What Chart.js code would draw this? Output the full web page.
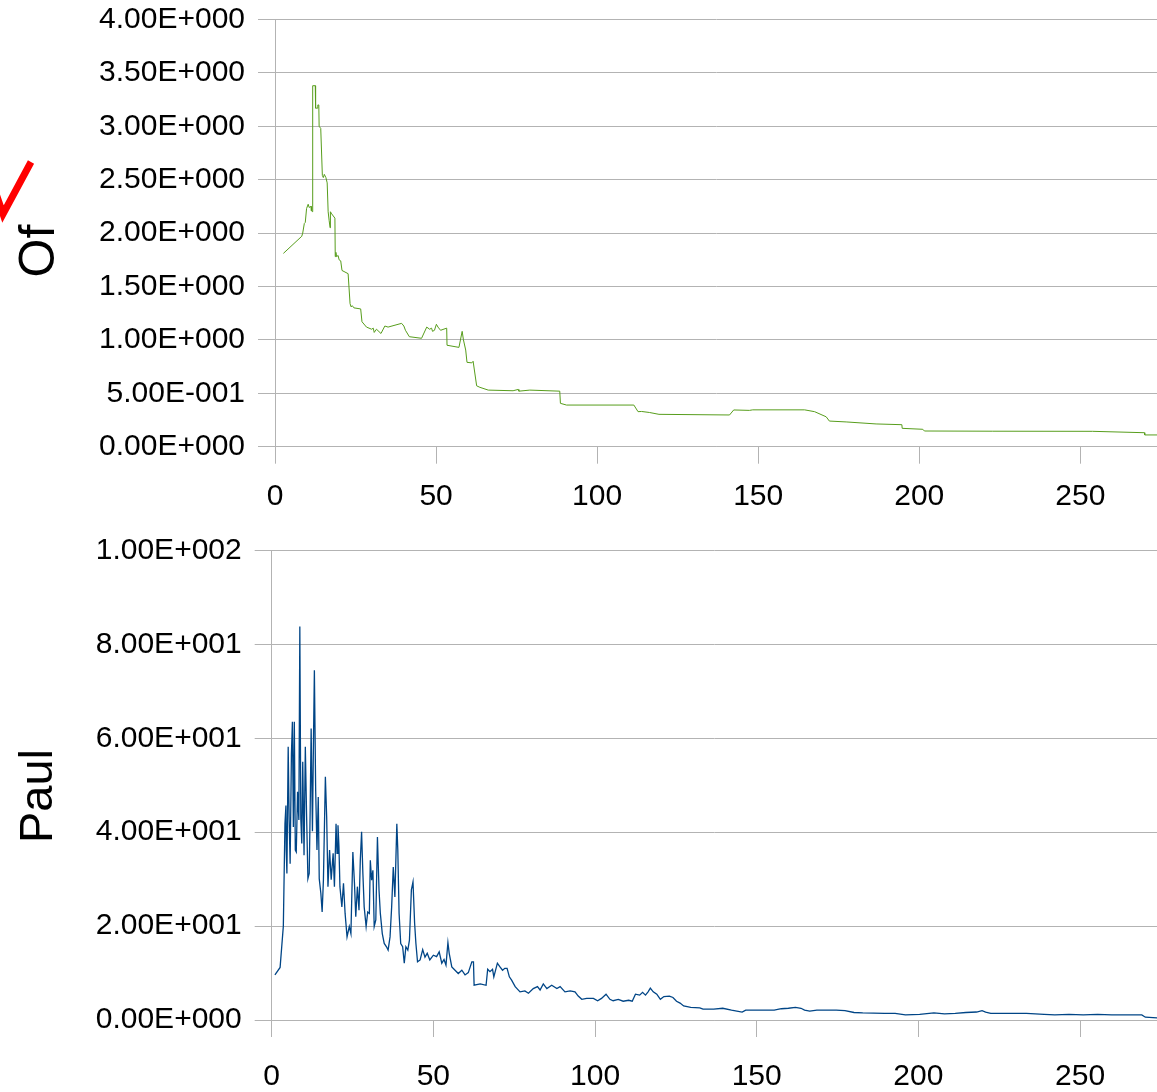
<!DOCTYPE html>
<html lang="en">
<head>
<meta charset="UTF-8">
<title>Of / Paul</title>
<script src="https://cdn.jsdelivr.net/npm/chart.js"></script>
<style>
    body { margin: 0; background: #fff; width: 1157px; height: 1092px; overflow: hidden; position: relative; }
    .box { position: absolute; left: 0; width: 1157px; }
    #topBox { top: 0; height: 520px; }
    #botBox { top: 520px; height: 572px; }
    #tick { position: absolute; left: 0; top: 0; }
</style>
</head>
<body>
<div class="box" id="topBox"><canvas id="ofChart" width="1157" height="520"></canvas></div>
<div class="box" id="botBox"><canvas id="paulChart" width="1157" height="572"></canvas></div>
<svg id="tick" width="40" height="230"><polyline points="-8,182 3,214 31,162" fill="none" stroke="#ff0000" stroke-width="7" /></svg>
<script>
// values
const ofX = [2.6, 8.3, 8.6, 9.1, 9.4, 9.8, 10.3, 10.6, 11.2, 11.3, 11.6, 11.7, 12.5, 12.6, 13.1, 13.3, 13.6, 13.7, 14.2, 14.7, 15.0, 15.3, 15.8, 16.2, 16.5, 16.8, 17.1, 17.2, 17.6, 18.6, 18.7, 18.9, 19.1, 19.6, 19.9, 20.4, 20.8, 22.7, 23.3, 23.6, 24.0, 24.5, 26.6, 27.0, 28.4, 30.0, 30.5, 30.8, 31.5, 32.9, 34.1, 35.1, 39.3, 40.0, 40.5, 41.7, 45.5, 47.1, 48.0, 48.6, 48.9, 49.5, 50.1, 50.6, 51.4, 53.3, 53.4, 57.1, 58.1, 58.5, 59.2, 59.6, 61.1, 61.5, 62.6, 63.6, 66.2, 73.9, 75.5, 75.7, 79.1, 88.4, 88.6, 90.5, 111.4, 112.7, 113.8, 116.3, 119.2, 141.1, 142.4, 147.3, 148.3, 164.4, 167.5, 171.1, 172.1, 177.3, 186.6, 194.6, 194.7, 201.1, 201.6, 222.8, 253.8, 269.9, 270.0, 274.0];
const ofY = [1.81, 1.97, 2.00, 2.09, 2.10, 2.23, 2.27, 2.24, 2.25, 2.21, 2.20, 3.38, 3.38, 3.17, 3.17, 3.20, 3.20, 3.00, 2.98, 2.54, 2.52, 2.55, 2.52, 2.47, 2.20, 2.12, 2.05, 2.20, 2.18, 2.14, 1.78, 1.82, 1.78, 1.79, 1.75, 1.74, 1.65, 1.62, 1.34, 1.31, 1.32, 1.30, 1.29, 1.17, 1.12, 1.10, 1.11, 1.07, 1.10, 1.06, 1.13, 1.12, 1.155, 1.13, 1.09, 1.03, 1.015, 1.12, 1.10, 1.11, 1.08, 1.09, 1.146, 1.12, 1.09, 1.11, 0.95, 0.93, 1.08, 1.00, 0.905, 0.79, 0.785, 0.80, 0.57, 0.556, 0.53, 0.524, 0.536, 0.52, 0.53, 0.52, 0.406, 0.39, 0.39, 0.328, 0.33, 0.32, 0.303, 0.297, 0.344, 0.34, 0.345, 0.345, 0.328, 0.28, 0.24, 0.232, 0.213, 0.206, 0.172, 0.163, 0.147, 0.145, 0.144, 0.131, 0.11, 0.11];

const paulX = [1.0, 2.6, 3.1, 3.6, 4.1, 4.4, 4.5, 4.7, 5.1, 5.4, 5.7, 6.1, 6.4, 6.7, 7.0, 7.3, 7.6, 8.0, 8.4, 8.7, 9.0, 9.3, 9.6, 10.0, 10.4, 10.8, 11.2, 11.6, 11.9, 12.2, 12.6, 12.9, 13.2, 13.6, 14.0, 14.4, 14.7, 15.2, 15.6, 16.0, 16.6, 17.0, 17.4, 17.9, 18.4, 19.0, 19.4, 19.9, 20.2, 20.5, 20.8, 21.1, 21.7, 22.2, 22.7, 23.3, 24.0, 24.5, 25.1, 25.6, 26.0, 26.5, 27.0, 27.4, 27.8, 28.2, 28.6, 29.2, 29.7, 30.2, 30.5, 30.9, 31.3, 31.7, 32.2, 32.7, 33.2, 33.6, 34.2, 34.8, 35.5, 36.0, 36.6, 37.1, 37.6, 38.1, 38.7, 39.0, 39.4, 39.9, 40.5, 41.0, 41.5, 42.1, 42.6, 43.2, 43.7, 44.2, 44.6, 45.1, 45.9, 46.7, 47.4, 48.1, 48.9, 50.0, 51.0, 51.8, 52.6, 53.3, 53.9, 54.5, 54.9, 55.7, 56.7, 57.7, 58.8, 59.8, 60.8, 61.9, 62.4, 62.6, 64.5, 66.3, 66.8, 67.5, 68.3, 68.7, 69.8, 70.6, 71.4, 72.1, 72.8, 73.5, 74.2, 75.3, 76.8, 78.3, 79.4, 80.9, 82.2, 83.0, 84.0, 85.1, 86.6, 88.2, 89.2, 90.7, 92.3, 93.8, 94.8, 95.9, 97.4, 99.5, 100.8, 102.0, 103.4, 104.6, 105.6, 107.2, 108.7, 110.4, 111.5, 112.5, 113.8, 114.7, 115.6, 116.4, 117.1, 118.0, 119.1, 120.2, 121.3, 123.0, 124.1, 125.2, 126.3, 127.4, 129.6, 132.4, 133.4, 136.7, 139.5, 142.2, 145.5, 146.6, 152.1, 155.4, 157.6, 159.8, 162.0, 163.7, 164.8, 166.4, 168.6, 171.9, 174.6, 177.3, 180.1, 182.8, 189.5, 192.8, 196.0, 200.4, 204.8, 208.1, 211.4, 214.7, 218.0, 219.7, 220.8, 222.4, 227.9, 233.4, 238.9, 242.2, 246.6, 251.0, 255.4, 259.8, 264.2, 269.1, 270.2, 274.0];
const paulY = [9.6, 11.2, 15.6, 20.0, 41.8, 45.7, 36.2, 31.2, 58.2, 42.6, 33.3, 56.7, 63.5, 41.1, 63.5, 36.2, 35.8, 48.6, 42.6, 83.8, 43.0, 37.6, 55.0, 35.1, 58.2, 43.3, 30.1, 31.2, 44.7, 62.1, 40.2, 58.2, 74.5, 48.9, 36.2, 47.5, 30.1, 27.0, 23.0, 29.9, 51.8, 43.3, 28.4, 36.2, 29.9, 35.5, 28.4, 41.8, 35.5, 41.5, 36.9, 28.4, 24.1, 29.1, 22.7, 17.7, 19.9, 18.4, 35.8, 29.1, 22.0, 28.4, 23.4, 34.0, 40.1, 31.2, 24.1, 19.9, 23.0, 22.7, 34.0, 29.8, 31.9, 19.9, 21.3, 39.0, 27.6, 22.7, 18.4, 16.3, 15.6, 14.9, 17.7, 24.1, 32.6, 26.2, 41.8, 36.2, 22.7, 16.3, 15.6, 12.1, 15.6, 14.9, 17.0, 27.7, 29.4, 20.6, 16.3, 12.4, 12.8, 15.0, 13.4, 14.2, 12.8, 13.8, 13.5, 14.5, 12.1, 12.9, 11.7, 16.5, 14.2, 11.3, 10.6, 9.9, 10.6, 9.6, 10.1, 12.4, 12.4, 7.4, 7.7, 7.4, 10.8, 10.3, 10.8, 9.2, 12.1, 11.3, 10.6, 11.0, 11.0, 9.2, 8.5, 7.1, 6.0, 6.2, 5.7, 6.7, 7.1, 6.4, 7.7, 6.7, 7.4, 6.7, 7.1, 6.0, 6.2, 6.0, 5.1, 4.4, 4.6, 4.6, 4.1, 4.6, 5.5, 4.4, 4.1, 4.4, 4.0, 4.2, 4.0, 5.5, 5.3, 5.9, 5.3, 6.0, 6.8, 6.0, 5.5, 4.4, 5.0, 5.1, 4.8, 4.0, 3.6, 3.0, 2.7, 2.6, 2.3, 2.3, 2.5, 2.1, 1.7, 2.1, 2.1, 2.1, 2.4, 2.5, 2.7, 2.5, 2.1, 1.9, 2.1, 2.1, 2.1, 2.0, 1.6, 1.5, 1.4, 1.4, 1.1, 1.2, 1.5, 1.3, 1.4, 1.6, 1.7, 2.0, 1.7, 1.4, 1.4, 1.4, 1.2, 1.1, 1.2, 1.1, 1.2, 1.1, 1.1, 1.1, 0.6, 0.45];

const xMax = 273.8;
const xStep = 50;
const ofMax = 4, ofStep = 0.5;
const paulMax = 100, paulStep = 20;

const GRID = '#b3b3b3';
const FONT = 'Liberation Sans, Arial, sans-serif';

// 4.00E+000 style labels
function sci(v) {
    const parts = Number(v).toExponential(2).split('e');
    const n = parseInt(parts[1], 10);
    return parts[0] + 'E' + (n < 0 ? '-' : '+') + String(Math.abs(n)).padStart(3, '0');
}

// rotated axis title drawn next to the labels
const sideTitle = {
    id: 'sideTitle',
    afterDraw(chart, args, opts) {
        const ctx = chart.ctx;
        ctx.save();
        ctx.translate(opts.x, opts.y);
        ctx.rotate(-Math.PI / 2);
        ctx.font = opts.size + 'px ' + FONT;
        ctx.fillStyle = '#000';
        ctx.textAlign = 'center';
        ctx.textBaseline = 'middle';
        ctx.fillText(opts.text, 0, 0);
        ctx.restore();
    }
};

function makeChart(id, xs, ys, color, width, yMax, yStep, yAxisWidth, xAxisHeight, padTop, title, titleX, titleY, titleSize, xPad) {
    const pts = xs.map((x, i) => ({ x: x, y: ys[i] }));
    return new Chart(document.getElementById(id), {
        type: 'line',
        data: {
            datasets: [{
                data: pts,
                borderColor: color,
                borderWidth: width,
                pointRadius: 0,
                tension: 0,
                fill: false
            }]
        },
        plugins: [sideTitle],
        options: {
            responsive: false,
            animation: false,
            devicePixelRatio: 1,
            layout: { padding: { top: padTop, right: 0, left: 0, bottom: 0 } },
            plugins: {
                legend: { display: false },
                tooltip: { enabled: false },
                sideTitle: { text: title, x: titleX, y: titleY, size: titleSize }
            },
            scales: {
                x: {
                    type: 'linear',
                    min: 0,
                    max: xMax,
                    afterFit: s => { s.height = xAxisHeight; s.paddingLeft = 0; s.paddingRight = 0; },
                    grid: { drawOnChartArea: false, color: GRID, tickLength: 17 },
                    border: { color: GRID },
                    ticks: { stepSize: xStep, includeBounds: false, maxRotation: 0, padding: xPad, color: '#000', font: { family: FONT, size: 30 } }
                },
                y: {
                    min: 0,
                    max: yMax,
                    afterFit: s => { s.width = yAxisWidth; s.paddingTop = 0; s.paddingBottom = 0; },
                    grid: { color: GRID, tickLength: 17 },
                    border: { color: GRID },
                    ticks: { stepSize: yStep, padding: 13, color: '#000', font: { family: FONT, size: 30 }, callback: v => sci(v) }
                }
            }
        }
    });
}

makeChart('ofChart', ofX, ofY, '#579d1c', 1, ofMax, ofStep, 275, 73.3, 19.5, 'Of', 40, 251, 50, 15);
makeChart('paulChart', paulX, paulY, '#004586', 1.3, paulMax, paulStep, 271.7, 72, 30.5, 'Paul', 39, 276, 47, 22);
</script>
</body>
</html>
